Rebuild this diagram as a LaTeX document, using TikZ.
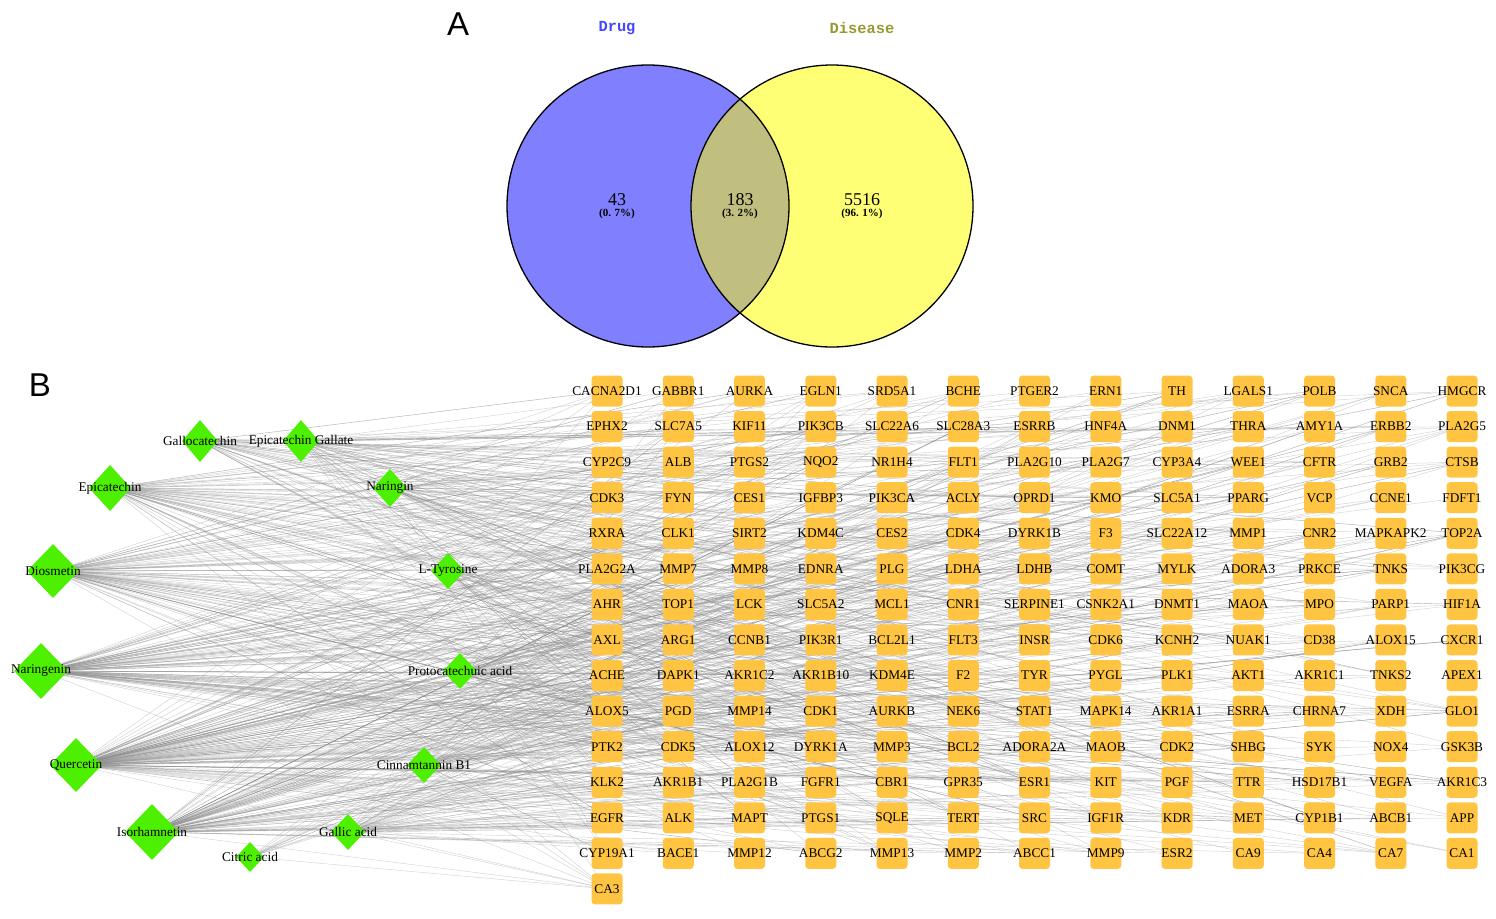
\documentclass[tikz,border=0pt]{standalone}
\usepackage{fontspec}
\setmainfont{Liberation Serif}
\newfontfamily\sansf{Liberation Sans}
\newfontfamily\monof{Liberation Mono}
\usetikzlibrary{shapes.geometric}
\pgfdeclarelayer{background}
\pgfsetlayers{background,main}
\definecolor{genecol}{RGB}{255,196,66}
\definecolor{drugcol}{RGB}{76,240,0}
\definecolor{vblue}{RGB}{128,128,255}
\definecolor{vyellow}{RGB}{255,255,118}
\definecolor{vboth}{RGB}{192,191,128}
\definecolor{drugtxt}{RGB}{70,70,255}
\definecolor{distxt}{RGB}{153,153,51}
\tikzset{
  genebox/.style={rectangle, rounded corners=3.5pt, fill=genecol, draw=none,
    minimum width=31pt, minimum height=31pt, inner sep=0pt},
  glbl/.style={font=\fontsize{13.3}{14}\selectfont, text=black, inner sep=0pt},
  drugbox/.style={diamond, fill=drugcol, draw=none, inner sep=0pt},
  edge/.style={draw=black!45, line width=0.45pt, opacity=0.38},
  vnum/.style={font=\fontsize{18}{18}\selectfont},
  vpct/.style={font=\bfseries\fontsize{11}{11}\selectfont},
  vtitle/.style={font=\monof\bfseries\fontsize{15.4}{16}\selectfont},
  panel/.style={font=\sansf\fontsize{33}{33}\selectfont}
}
\begin{document}
\begin{tikzpicture}[x=1pt,y=-1pt]
\useasboundingbox (0,0) rectangle (1496,918);
% ---------------- Panel A: Venn ----------------
\node[panel] (la) at (458,24) {A};
\node[vtitle, text=drugtxt] (tdrug) at (617,28) {Drug};
\node[vtitle, text=distxt] (tdis) at (862,28) {Disease};
\fill[vblue] (648,206) circle (141);
\fill[vyellow] (832,206) circle (141);
\begin{scope}
  \clip (648,206) circle (141);
  \fill[vboth] (832,206) circle (141);
\end{scope}
\draw[black, line width=1.3pt] (648,206) circle (141);
\draw[black, line width=1.3pt] (832,206) circle (141);
\node[vnum] (n43) at (617,200) {43};
\node[vpct] (p43) at (617,214) {(0. 7\%)};
\node[vnum] (n183) at (740,200) {183};
\node[vpct] (p183) at (740,214) {(3. 2\%)};
\node[vnum] (n5516) at (862,200) {5516};
\node[vpct] (p5516) at (862,214) {(96. 1\%)};
% ---------------- Panel B: network ----------------
\node[panel] (lb) at (40,385) {B};
% gene grid
\foreach \row [count=\r] in {
  {CACNA2D1,GABBR1,AURKA,EGLN1,SRD5A1,BCHE,PTGER2,ERN1,TH,LGALS1,POLB,SNCA,HMGCR},
  {EPHX2,SLC7A5,KIF11,PIK3CB,SLC22A6,SLC28A3,ESRRB,HNF4A,DNM1,THRA,AMY1A,ERBB2,PLA2G5},
  {CYP2C9,ALB,PTGS2,NQO2,NR1H4,FLT1,PLA2G10,PLA2G7,CYP3A4,WEE1,CFTR,GRB2,CTSB},
  {CDK3,FYN,CES1,IGFBP3,PIK3CA,ACLY,OPRD1,KMO,SLC5A1,PPARG,VCP,CCNE1,FDFT1},
  {RXRA,CLK1,SIRT2,KDM4C,CES2,CDK4,DYRK1B,F3,SLC22A12,MMP1,CNR2,MAPKAPK2,TOP2A},
  {PLA2G2A,MMP7,MMP8,EDNRA,PLG,LDHA,LDHB,COMT,MYLK,ADORA3,PRKCE,TNKS,PIK3CG},
  {AHR,TOP1,LCK,SLC5A2,MCL1,CNR1,SERPINE1,CSNK2A1,DNMT1,MAOA,MPO,PARP1,HIF1A},
  {AXL,ARG1,CCNB1,PIK3R1,BCL2L1,FLT3,INSR,CDK6,KCNH2,NUAK1,CD38,ALOX15,CXCR1},
  {ACHE,DAPK1,AKR1C2,AKR1B10,KDM4E,F2,TYR,PYGL,PLK1,AKT1,AKR1C1,TNKS2,APEX1},
  {ALOX5,PGD,MMP14,CDK1,AURKB,NEK6,STAT1,MAPK14,AKR1A1,ESRRA,CHRNA7,XDH,GLO1},
  {PTK2,CDK5,ALOX12,DYRK1A,MMP3,BCL2,ADORA2A,MAOB,CDK2,SHBG,SYK,NOX4,GSK3B},
  {KLK2,AKR1B1,PLA2G1B,FGFR1,CBR1,GPR35,ESR1,KIT,PGF,TTR,HSD17B1,VEGFA,AKR1C3},
  {EGFR,ALK,MAPT,PTGS1,SQLE,TERT,SRC,IGF1R,KDR,MET,CYP1B1,ABCB1,APP},
  {CYP19A1,BACE1,MMP12,ABCG2,MMP13,MMP2,ABCC1,MMP9,ESR2,CA9,CA4,CA7,CA1},
  {CA3}}{
  \foreach \n [count=\c] in \row {
    \node[genebox, label={[glbl]center:\n}] (g\r-\c) at ({607+(\c-1)*71.25},{391+(\r-1)*35.57}) {};
  }
}
% drug nodes
\foreach \id/\x/\y/\w/\h/\t in {
  gc/200/441/18/21/Gallocatechin,
  ecg/301/441/18/21/Epicatechin Gallate,
  ec/110/488/21/23/Epicatechin,
  ng/390/488/17/19/Naringin,
  di/53/571/26/27/Diosmetin,
  lt/448/571/17/18/L-Tyrosine,
  nn/41/671/27/28/Naringenin,
  pa/460/671/17/18/Protocatechuic acid,
  qu/76/765/26/27/Quercetin,
  cb/424/765/17/18/Cinnamtannin B1,
  is/152/832/27/28/Isorhamnetin,
  ga/348/832/17/18/Gallic acid,
  ca/250/857/14/15/Citric acid}{
  \node[drugbox, minimum width={2*\w pt}, minimum height={2*\h pt}, label={[glbl]center:\t}] (\id) at (\x,\y) {};
}
% edges
\begin{pgfonlayer}{background}
\pgfmathsetseed{4321}
\foreach \d/\k in {qu/150,nn/115,is/105,di/95,ec/70,gc/45,ecg/45,ng/35,lt/30,pa/35,cb/35,ga/40,ca/12}{
  \foreach \i in {1,...,\k}{
    \pgfmathrandominteger{\rr}{1}{14}
    \pgfmathrandominteger{\cc}{1}{13}
    \draw[edge] (\d.center) -- (g\rr-\cc.center);
  }
}
\foreach \d in {qu,nn,is,di,ec,ga,ca,cb,pa}{
  \draw[edge] (\d.center) -- (g15-1.center);
}
\end{pgfonlayer}
\end{tikzpicture}
\end{document}
